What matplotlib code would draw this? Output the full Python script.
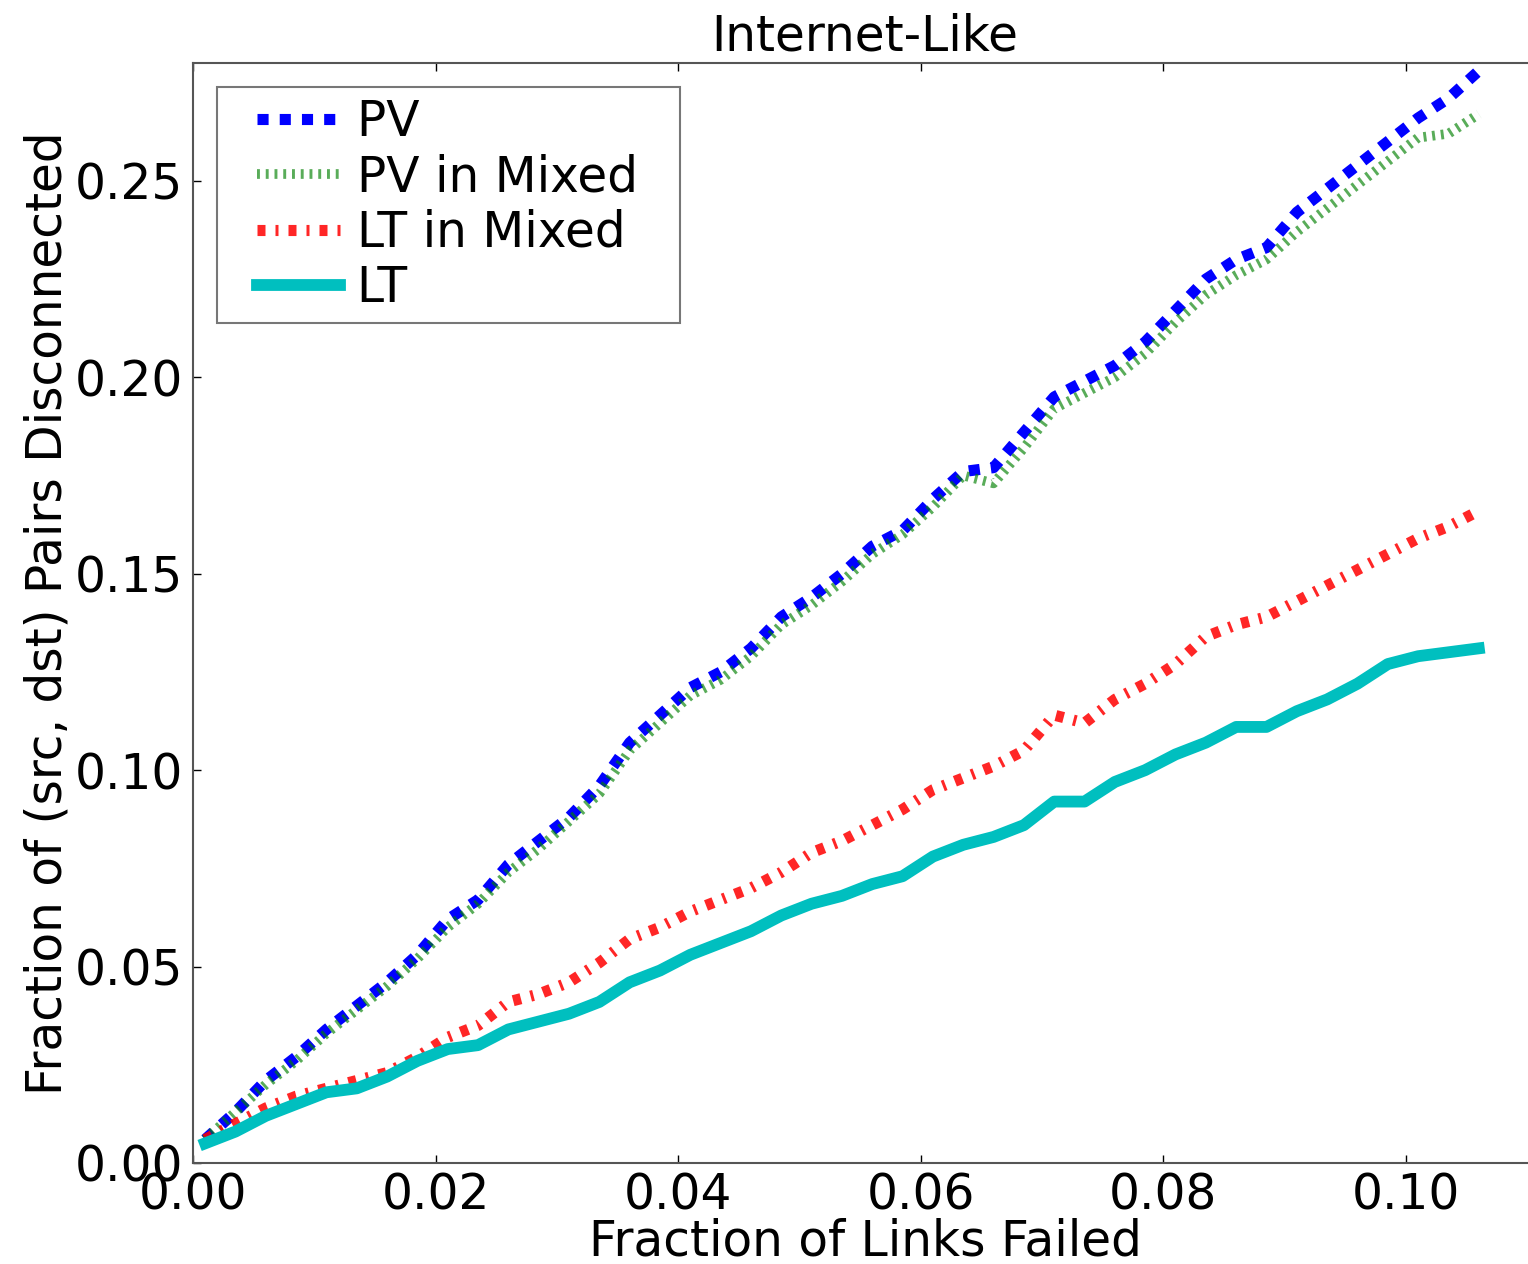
import matplotlib
matplotlib.use('Agg')
import matplotlib.pyplot as plt
from matplotlib.legend_handler import HandlerLine2D

# fraction of links failed (x) and fraction of disconnected pairs per routing scheme
links_failed = [0.0010, 0.0035, 0.0060, 0.0085, 0.0110, 0.0135, 0.0160, 0.0185, 0.0210, 0.0235,
                0.0260, 0.0285, 0.0310, 0.0335, 0.0360, 0.0385, 0.0410, 0.0435, 0.0460, 0.0485,
                0.0510, 0.0535, 0.0560, 0.0585, 0.0610, 0.0635, 0.0660, 0.0685, 0.0710, 0.0735,
                0.0760, 0.0785, 0.0810, 0.0835, 0.0860, 0.0885, 0.0910, 0.0935, 0.0960, 0.0985,
                0.1010, 0.1035, 0.1060]

pv = [0.006, 0.013, 0.021, 0.027, 0.034, 0.040, 0.046, 0.053, 0.062, 0.067,
      0.076, 0.082, 0.088, 0.096, 0.107, 0.114, 0.121, 0.125, 0.131, 0.139,
      0.144, 0.150, 0.157, 0.161, 0.169, 0.176, 0.177, 0.186, 0.195, 0.199,
      0.203, 0.209, 0.217, 0.225, 0.230, 0.233, 0.242, 0.248, 0.254, 0.260,
      0.266, 0.271, 0.278]

pv_mixed = [0.006, 0.013, 0.020, 0.026, 0.033, 0.039, 0.045, 0.052, 0.060, 0.066,
            0.074, 0.080, 0.087, 0.094, 0.105, 0.112, 0.119, 0.123, 0.129, 0.137,
            0.142, 0.148, 0.155, 0.160, 0.167, 0.175, 0.173, 0.182, 0.192, 0.196,
            0.200, 0.206, 0.214, 0.221, 0.226, 0.230, 0.237, 0.243, 0.249, 0.255,
            0.261, 0.262, 0.267]

lt_mixed = [0.006, 0.010, 0.014, 0.017, 0.019, 0.021, 0.023, 0.027, 0.032, 0.035,
            0.041, 0.043, 0.046, 0.051, 0.057, 0.060, 0.064, 0.067, 0.070, 0.074,
            0.079, 0.082, 0.086, 0.090, 0.095, 0.098, 0.101, 0.105, 0.114, 0.112,
            0.118, 0.122, 0.127, 0.134, 0.137, 0.139, 0.143, 0.147, 0.151, 0.155,
            0.159, 0.162, 0.166]

lt = [0.005, 0.008, 0.012, 0.015, 0.018, 0.019, 0.022, 0.026, 0.029, 0.030,
      0.034, 0.036, 0.038, 0.041, 0.046, 0.049, 0.053, 0.056, 0.059, 0.063,
      0.066, 0.068, 0.071, 0.073, 0.078, 0.081, 0.083, 0.086, 0.092, 0.092,
      0.097, 0.100, 0.104, 0.107, 0.111, 0.111, 0.115, 0.118, 0.122, 0.127,
      0.129, 0.130, 0.131]

x_ticks = [0.00, 0.02, 0.04, 0.06, 0.08, 0.10]
y_ticks = [0.00, 0.05, 0.10, 0.15, 0.20, 0.25]

FS = 35

fig = plt.figure(figsize=(15.28, 12.64), dpi=100)
# axes runs a little past the right edge of the image, like the cropped original
ax = fig.add_axes([193 / 1528, 1 - 1163 / 1264, (1537 - 193) / 1528, (1163 - 63) / 1264])

ax.plot(links_failed, pv, color='b', lw=8, dashes=[1, 1], label='PV')
ax.plot(links_failed, pv_mixed, color='g', lw=7, alpha=0.65, dashes=[0.3, 0.6], label='PV in Mixed')
ax.plot(links_failed, lt_mixed, color='r', lw=8, alpha=0.85, dashes=[0.72, 0.9, 0.27, 0.9], label='LT in Mixed')
ax.plot(links_failed, lt, color=(0, 0.75, 0.75), lw=8.5, label='LT')

ax.set_xlim(0, 0.1108)
ax.set_ylim(0, 0.28)
ax.set_xticks(x_ticks)
ax.set_yticks(y_ticks)
ax.set_xticklabels(['%.2f' % v for v in x_ticks])
ax.set_yticklabels(['%.2f' % v for v in y_ticks])
ax.tick_params(direction='in', top=True, right=True, length=6, width=1, labelsize=FS)
ax.tick_params(axis='y', pad=7)
ax.tick_params(axis='x', pad=6)
for s in ax.spines.values():
    s.set_color('#555555')
    s.set_linewidth(1.5)

ax.set_xlabel('Fraction of Links Failed', fontsize=FS)
ax.xaxis.set_label_coords(0.5, -0.05)
ax.set_ylabel('Fraction of (src, dst) Pairs Disconnected', fontsize=FS, labelpad=2)
ax.set_title('Internet-Like', fontsize=FS, pad=9)

# extra room left of the handles and right of the text, tight top/bottom
handles, labels = ax.get_legend_handles_labels()
leg = ax.legend(handles, [l + '  ' for l in labels], loc='upper left', fontsize=FS,
                fancybox=False, labelspacing=0.15, handlelength=2.3, handletextpad=0.35,
                borderpad=0.22, borderaxespad=0.5,
                handler_map={h: HandlerLine2D(xpad=0.6) for h in handles})
leg.get_frame().set_edgecolor('#555555')
leg.get_frame().set_linewidth(1.5)

fig.savefig('out.png', dpi=100)
